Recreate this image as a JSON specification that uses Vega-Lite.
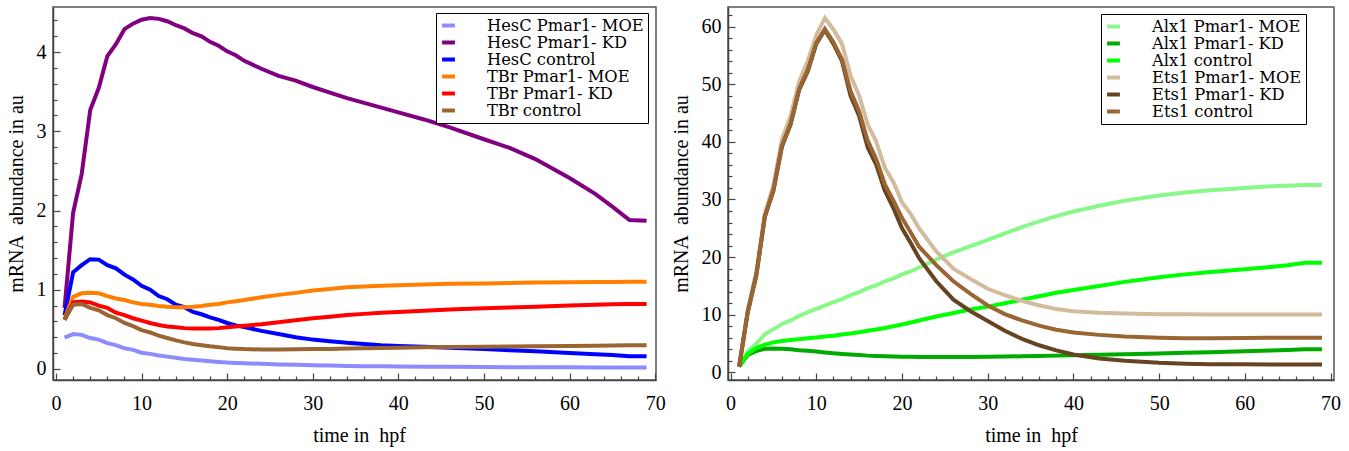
{
"$schema": "https://vega.github.io/schema/vega-lite/v6.json",
"autosize": {"type": "none"},
"padding": {"left": 53, "top": 7, "right": 1296, "bottom": 444},
"background": "white",
"bounds": "flush",
"spacing": 72,
"resolve": {"scale": {"color": "independent"}, "legend": {"color": "independent"}},
"config": {
  "font": "Liberation Serif",
  "view": {"stroke": "#555555", "strokeWidth": 1.5},
  "axis": {"grid": false, "labelFont": "Liberation Serif", "titleFont": "Liberation Serif", "labelColor": "black", "titleColor": "black", "titleFontWeight": "normal", "labelFontSize": 20, "titleFontSize": 20, "tickColor": "#444444", "domainColor": "#444444", "domainWidth": 1.5, "tickWidth": 1.2, "labelFlush": false, "labelOverlap": false},
  "legend": {"labelFont": "DejaVu Serif", "labelFontSize": 16.3, "labelColor": "black", "title": null, "symbolType": "stroke", "symbolStrokeWidth": 4, "symbolSize": 165, "labelOffset": 30, "rowPadding": 0, "padding": 4, "strokeColor": "black", "fillColor": "white", "labelLimit": 400}
},
"datasets": {
"left": [
{"t":1,"s":"HesC Pmar1- MOE","v":0.395},{"t":2,"s":"HesC Pmar1- MOE","v":0.44},{"t":3,"s":"HesC Pmar1- MOE","v":0.43},{"t":4,"s":"HesC Pmar1- MOE","v":0.39},{"t":5,"s":"HesC Pmar1- MOE","v":0.37},{"t":6,"s":"HesC Pmar1- MOE","v":0.325},{"t":7,"s":"HesC Pmar1- MOE","v":0.30},{"t":8,"s":"HesC Pmar1- MOE","v":0.26},{"t":9,"s":"HesC Pmar1- MOE","v":0.24},{"t":10,"s":"HesC Pmar1- MOE","v":0.205},{"t":11,"s":"HesC Pmar1- MOE","v":0.19},{"t":12,"s":"HesC Pmar1- MOE","v":0.17},{"t":13,"s":"HesC Pmar1- MOE","v":0.155},{"t":14,"s":"HesC Pmar1- MOE","v":0.14},{"t":15,"s":"HesC Pmar1- MOE","v":0.125},{"t":16,"s":"HesC Pmar1- MOE","v":0.115},{"t":17,"s":"HesC Pmar1- MOE","v":0.105},{"t":18,"s":"HesC Pmar1- MOE","v":0.097},{"t":19,"s":"HesC Pmar1- MOE","v":0.088},{"t":20,"s":"HesC Pmar1- MOE","v":0.08},{"t":21,"s":"HesC Pmar1- MOE","v":0.076},{"t":22,"s":"HesC Pmar1- MOE","v":0.072},{"t":24,"s":"HesC Pmar1- MOE","v":0.064},{"t":26,"s":"HesC Pmar1- MOE","v":0.057},{"t":28,"s":"HesC Pmar1- MOE","v":0.051},{"t":30,"s":"HesC Pmar1- MOE","v":0.046},{"t":32,"s":"HesC Pmar1- MOE","v":0.042},{"t":34,"s":"HesC Pmar1- MOE","v":0.038},{"t":36,"s":"HesC Pmar1- MOE","v":0.035},{"t":38,"s":"HesC Pmar1- MOE","v":0.033},{"t":40,"s":"HesC Pmar1- MOE","v":0.031},{"t":43,"s":"HesC Pmar1- MOE","v":0.028},{"t":46,"s":"HesC Pmar1- MOE","v":0.026},{"t":50,"s":"HesC Pmar1- MOE","v":0.024},{"t":53,"s":"HesC Pmar1- MOE","v":0.022},{"t":56,"s":"HesC Pmar1- MOE","v":0.021},{"t":60,"s":"HesC Pmar1- MOE","v":0.02},{"t":63,"s":"HesC Pmar1- MOE","v":0.019},{"t":65,"s":"HesC Pmar1- MOE","v":0.018},{"t":67,"s":"HesC Pmar1- MOE","v":0.018},{"t":69,"s":"HesC Pmar1- MOE","v":0.018},
{"t":1,"s":"HesC Pmar1- KD","v":0.77},{"t":2,"s":"HesC Pmar1- KD","v":1.97},{"t":3,"s":"HesC Pmar1- KD","v":2.46},{"t":4,"s":"HesC Pmar1- KD","v":3.27},{"t":5,"s":"HesC Pmar1- KD","v":3.55},{"t":6,"s":"HesC Pmar1- KD","v":3.95},{"t":7,"s":"HesC Pmar1- KD","v":4.10},{"t":8,"s":"HesC Pmar1- KD","v":4.29},{"t":9,"s":"HesC Pmar1- KD","v":4.36},{"t":10,"s":"HesC Pmar1- KD","v":4.41},{"t":11,"s":"HesC Pmar1- KD","v":4.43},{"t":12,"s":"HesC Pmar1- KD","v":4.42},{"t":13,"s":"HesC Pmar1- KD","v":4.39},{"t":14,"s":"HesC Pmar1- KD","v":4.34},{"t":15,"s":"HesC Pmar1- KD","v":4.30},{"t":16,"s":"HesC Pmar1- KD","v":4.24},{"t":17,"s":"HesC Pmar1- KD","v":4.20},{"t":18,"s":"HesC Pmar1- KD","v":4.13},{"t":19,"s":"HesC Pmar1- KD","v":4.08},{"t":20,"s":"HesC Pmar1- KD","v":4.01},{"t":21,"s":"HesC Pmar1- KD","v":3.96},{"t":22,"s":"HesC Pmar1- KD","v":3.89},{"t":24,"s":"HesC Pmar1- KD","v":3.79},{"t":26,"s":"HesC Pmar1- KD","v":3.70},{"t":28,"s":"HesC Pmar1- KD","v":3.64},{"t":30,"s":"HesC Pmar1- KD","v":3.56},{"t":32,"s":"HesC Pmar1- KD","v":3.49},{"t":34,"s":"HesC Pmar1- KD","v":3.42},{"t":36,"s":"HesC Pmar1- KD","v":3.36},{"t":38,"s":"HesC Pmar1- KD","v":3.30},{"t":40,"s":"HesC Pmar1- KD","v":3.24},{"t":43,"s":"HesC Pmar1- KD","v":3.15},{"t":46,"s":"HesC Pmar1- KD","v":3.05},{"t":50,"s":"HesC Pmar1- KD","v":2.90},{"t":53,"s":"HesC Pmar1- KD","v":2.79},{"t":56,"s":"HesC Pmar1- KD","v":2.65},{"t":60,"s":"HesC Pmar1- KD","v":2.41},{"t":63,"s":"HesC Pmar1- KD","v":2.21},{"t":65,"s":"HesC Pmar1- KD","v":2.05},{"t":67,"s":"HesC Pmar1- KD","v":1.88},{"t":69,"s":"HesC Pmar1- KD","v":1.87},
{"t":1,"s":"HesC control","v":0.68},{"t":2,"s":"HesC control","v":1.22},{"t":3,"s":"HesC control","v":1.31},{"t":4,"s":"HesC control","v":1.385},{"t":5,"s":"HesC control","v":1.38},{"t":6,"s":"HesC control","v":1.31},{"t":7,"s":"HesC control","v":1.27},{"t":8,"s":"HesC control","v":1.19},{"t":9,"s":"HesC control","v":1.13},{"t":10,"s":"HesC control","v":1.05},{"t":11,"s":"HesC control","v":1.00},{"t":12,"s":"HesC control","v":0.92},{"t":13,"s":"HesC control","v":0.88},{"t":14,"s":"HesC control","v":0.81},{"t":15,"s":"HesC control","v":0.78},{"t":16,"s":"HesC control","v":0.72},{"t":17,"s":"HesC control","v":0.69},{"t":18,"s":"HesC control","v":0.65},{"t":19,"s":"HesC control","v":0.62},{"t":20,"s":"HesC control","v":0.58},{"t":21,"s":"HesC control","v":0.55},{"t":22,"s":"HesC control","v":0.53},{"t":24,"s":"HesC control","v":0.48},{"t":26,"s":"HesC control","v":0.44},{"t":28,"s":"HesC control","v":0.40},{"t":30,"s":"HesC control","v":0.37},{"t":32,"s":"HesC control","v":0.35},{"t":34,"s":"HesC control","v":0.33},{"t":36,"s":"HesC control","v":0.315},{"t":38,"s":"HesC control","v":0.30},{"t":40,"s":"HesC control","v":0.29},{"t":43,"s":"HesC control","v":0.28},{"t":46,"s":"HesC control","v":0.268},{"t":50,"s":"HesC control","v":0.25},{"t":53,"s":"HesC control","v":0.237},{"t":56,"s":"HesC control","v":0.222},{"t":60,"s":"HesC control","v":0.20},{"t":63,"s":"HesC control","v":0.185},{"t":65,"s":"HesC control","v":0.175},{"t":67,"s":"HesC control","v":0.16},{"t":69,"s":"HesC control","v":0.16},
{"t":1,"s":"TBr Pmar1- MOE","v":0.63},{"t":2,"s":"TBr Pmar1- MOE","v":0.91},{"t":3,"s":"TBr Pmar1- MOE","v":0.955},{"t":4,"s":"TBr Pmar1- MOE","v":0.963},{"t":5,"s":"TBr Pmar1- MOE","v":0.955},{"t":6,"s":"TBr Pmar1- MOE","v":0.92},{"t":7,"s":"TBr Pmar1- MOE","v":0.89},{"t":8,"s":"TBr Pmar1- MOE","v":0.87},{"t":9,"s":"TBr Pmar1- MOE","v":0.84},{"t":10,"s":"TBr Pmar1- MOE","v":0.82},{"t":11,"s":"TBr Pmar1- MOE","v":0.81},{"t":12,"s":"TBr Pmar1- MOE","v":0.795},{"t":13,"s":"TBr Pmar1- MOE","v":0.786},{"t":14,"s":"TBr Pmar1- MOE","v":0.78},{"t":15,"s":"TBr Pmar1- MOE","v":0.78},{"t":16,"s":"TBr Pmar1- MOE","v":0.786},{"t":17,"s":"TBr Pmar1- MOE","v":0.795},{"t":18,"s":"TBr Pmar1- MOE","v":0.81},{"t":19,"s":"TBr Pmar1- MOE","v":0.82},{"t":20,"s":"TBr Pmar1- MOE","v":0.84},{"t":21,"s":"TBr Pmar1- MOE","v":0.855},{"t":22,"s":"TBr Pmar1- MOE","v":0.87},{"t":24,"s":"TBr Pmar1- MOE","v":0.905},{"t":26,"s":"TBr Pmar1- MOE","v":0.935},{"t":28,"s":"TBr Pmar1- MOE","v":0.96},{"t":30,"s":"TBr Pmar1- MOE","v":0.99},{"t":32,"s":"TBr Pmar1- MOE","v":1.01},{"t":34,"s":"TBr Pmar1- MOE","v":1.03},{"t":36,"s":"TBr Pmar1- MOE","v":1.04},{"t":38,"s":"TBr Pmar1- MOE","v":1.05},{"t":40,"s":"TBr Pmar1- MOE","v":1.057},{"t":43,"s":"TBr Pmar1- MOE","v":1.065},{"t":46,"s":"TBr Pmar1- MOE","v":1.075},{"t":50,"s":"TBr Pmar1- MOE","v":1.08},{"t":53,"s":"TBr Pmar1- MOE","v":1.085},{"t":56,"s":"TBr Pmar1- MOE","v":1.09},{"t":60,"s":"TBr Pmar1- MOE","v":1.093},{"t":63,"s":"TBr Pmar1- MOE","v":1.096},{"t":65,"s":"TBr Pmar1- MOE","v":1.098},{"t":67,"s":"TBr Pmar1- MOE","v":1.10},{"t":69,"s":"TBr Pmar1- MOE","v":1.10},
{"t":1,"s":"TBr Pmar1- KD","v":0.62},{"t":2,"s":"TBr Pmar1- KD","v":0.84},{"t":3,"s":"TBr Pmar1- KD","v":0.85},{"t":4,"s":"TBr Pmar1- KD","v":0.84},{"t":5,"s":"TBr Pmar1- KD","v":0.80},{"t":6,"s":"TBr Pmar1- KD","v":0.77},{"t":7,"s":"TBr Pmar1- KD","v":0.71},{"t":8,"s":"TBr Pmar1- KD","v":0.68},{"t":9,"s":"TBr Pmar1- KD","v":0.64},{"t":10,"s":"TBr Pmar1- KD","v":0.61},{"t":11,"s":"TBr Pmar1- KD","v":0.58},{"t":12,"s":"TBr Pmar1- KD","v":0.555},{"t":13,"s":"TBr Pmar1- KD","v":0.535},{"t":14,"s":"TBr Pmar1- KD","v":0.525},{"t":15,"s":"TBr Pmar1- KD","v":0.515},{"t":16,"s":"TBr Pmar1- KD","v":0.51},{"t":17,"s":"TBr Pmar1- KD","v":0.51},{"t":18,"s":"TBr Pmar1- KD","v":0.51},{"t":19,"s":"TBr Pmar1- KD","v":0.515},{"t":20,"s":"TBr Pmar1- KD","v":0.525},{"t":21,"s":"TBr Pmar1- KD","v":0.535},{"t":22,"s":"TBr Pmar1- KD","v":0.545},{"t":24,"s":"TBr Pmar1- KD","v":0.565},{"t":26,"s":"TBr Pmar1- KD","v":0.59},{"t":28,"s":"TBr Pmar1- KD","v":0.615},{"t":30,"s":"TBr Pmar1- KD","v":0.64},{"t":32,"s":"TBr Pmar1- KD","v":0.66},{"t":34,"s":"TBr Pmar1- KD","v":0.68},{"t":36,"s":"TBr Pmar1- KD","v":0.695},{"t":38,"s":"TBr Pmar1- KD","v":0.71},{"t":40,"s":"TBr Pmar1- KD","v":0.72},{"t":43,"s":"TBr Pmar1- KD","v":0.735},{"t":46,"s":"TBr Pmar1- KD","v":0.75},{"t":50,"s":"TBr Pmar1- KD","v":0.765},{"t":53,"s":"TBr Pmar1- KD","v":0.775},{"t":56,"s":"TBr Pmar1- KD","v":0.785},{"t":60,"s":"TBr Pmar1- KD","v":0.80},{"t":63,"s":"TBr Pmar1- KD","v":0.81},{"t":65,"s":"TBr Pmar1- KD","v":0.815},{"t":67,"s":"TBr Pmar1- KD","v":0.82},{"t":69,"s":"TBr Pmar1- KD","v":0.82},
{"t":1,"s":"TBr control","v":0.62},{"t":2,"s":"TBr control","v":0.81},{"t":3,"s":"TBr control","v":0.82},{"t":4,"s":"TBr control","v":0.77},{"t":5,"s":"TBr control","v":0.74},{"t":6,"s":"TBr control","v":0.68},{"t":7,"s":"TBr control","v":0.64},{"t":8,"s":"TBr control","v":0.58},{"t":9,"s":"TBr control","v":0.54},{"t":10,"s":"TBr control","v":0.49},{"t":11,"s":"TBr control","v":0.46},{"t":12,"s":"TBr control","v":0.42},{"t":13,"s":"TBr control","v":0.39},{"t":14,"s":"TBr control","v":0.36},{"t":15,"s":"TBr control","v":0.335},{"t":16,"s":"TBr control","v":0.315},{"t":17,"s":"TBr control","v":0.30},{"t":18,"s":"TBr control","v":0.285},{"t":19,"s":"TBr control","v":0.275},{"t":20,"s":"TBr control","v":0.262},{"t":21,"s":"TBr control","v":0.255},{"t":22,"s":"TBr control","v":0.25},{"t":24,"s":"TBr control","v":0.245},{"t":26,"s":"TBr control","v":0.245},{"t":28,"s":"TBr control","v":0.247},{"t":30,"s":"TBr control","v":0.25},{"t":32,"s":"TBr control","v":0.253},{"t":34,"s":"TBr control","v":0.257},{"t":36,"s":"TBr control","v":0.261},{"t":38,"s":"TBr control","v":0.265},{"t":40,"s":"TBr control","v":0.268},{"t":43,"s":"TBr control","v":0.272},{"t":46,"s":"TBr control","v":0.276},{"t":50,"s":"TBr control","v":0.28},{"t":53,"s":"TBr control","v":0.283},{"t":56,"s":"TBr control","v":0.286},{"t":60,"s":"TBr control","v":0.29},{"t":63,"s":"TBr control","v":0.293},{"t":65,"s":"TBr control","v":0.295},{"t":67,"s":"TBr control","v":0.298},{"t":69,"s":"TBr control","v":0.30}
],
"right": [
{"t":1,"s":"Alx1 Pmar1- MOE","v":1.0},{"t":2,"s":"Alx1 Pmar1- MOE","v":3.6},{"t":3,"s":"Alx1 Pmar1- MOE","v":5.0},{"t":4,"s":"Alx1 Pmar1- MOE","v":6.6},{"t":5,"s":"Alx1 Pmar1- MOE","v":7.5},{"t":6,"s":"Alx1 Pmar1- MOE","v":8.4},{"t":7,"s":"Alx1 Pmar1- MOE","v":9.0},{"t":8,"s":"Alx1 Pmar1- MOE","v":9.8},{"t":9,"s":"Alx1 Pmar1- MOE","v":10.4},{"t":10,"s":"Alx1 Pmar1- MOE","v":11.0},{"t":11,"s":"Alx1 Pmar1- MOE","v":11.6},{"t":12,"s":"Alx1 Pmar1- MOE","v":12.2},{"t":13,"s":"Alx1 Pmar1- MOE","v":12.7},{"t":14,"s":"Alx1 Pmar1- MOE","v":13.4},{"t":15,"s":"Alx1 Pmar1- MOE","v":13.9},{"t":16,"s":"Alx1 Pmar1- MOE","v":14.6},{"t":17,"s":"Alx1 Pmar1- MOE","v":15.1},{"t":18,"s":"Alx1 Pmar1- MOE","v":15.8},{"t":19,"s":"Alx1 Pmar1- MOE","v":16.3},{"t":20,"s":"Alx1 Pmar1- MOE","v":17.0},{"t":21,"s":"Alx1 Pmar1- MOE","v":17.5},{"t":22,"s":"Alx1 Pmar1- MOE","v":18.2},{"t":24,"s":"Alx1 Pmar1- MOE","v":19.6},{"t":26,"s":"Alx1 Pmar1- MOE","v":20.8},{"t":28,"s":"Alx1 Pmar1- MOE","v":21.9},{"t":30,"s":"Alx1 Pmar1- MOE","v":23.0},{"t":32,"s":"Alx1 Pmar1- MOE","v":24.1},{"t":34,"s":"Alx1 Pmar1- MOE","v":25.2},{"t":36,"s":"Alx1 Pmar1- MOE","v":26.2},{"t":38,"s":"Alx1 Pmar1- MOE","v":27.1},{"t":40,"s":"Alx1 Pmar1- MOE","v":27.9},{"t":43,"s":"Alx1 Pmar1- MOE","v":28.9},{"t":46,"s":"Alx1 Pmar1- MOE","v":29.8},{"t":50,"s":"Alx1 Pmar1- MOE","v":30.7},{"t":53,"s":"Alx1 Pmar1- MOE","v":31.2},{"t":56,"s":"Alx1 Pmar1- MOE","v":31.6},{"t":60,"s":"Alx1 Pmar1- MOE","v":32.0},{"t":63,"s":"Alx1 Pmar1- MOE","v":32.3},{"t":65,"s":"Alx1 Pmar1- MOE","v":32.4},{"t":67,"s":"Alx1 Pmar1- MOE","v":32.5},{"t":69,"s":"Alx1 Pmar1- MOE","v":32.5},
{"t":1,"s":"Alx1 Pmar1- KD","v":1.0},{"t":2,"s":"Alx1 Pmar1- KD","v":3.0},{"t":3,"s":"Alx1 Pmar1- KD","v":3.7},{"t":4,"s":"Alx1 Pmar1- KD","v":4.1},{"t":5,"s":"Alx1 Pmar1- KD","v":4.15},{"t":6,"s":"Alx1 Pmar1- KD","v":4.1},{"t":7,"s":"Alx1 Pmar1- KD","v":4.0},{"t":8,"s":"Alx1 Pmar1- KD","v":3.85},{"t":9,"s":"Alx1 Pmar1- KD","v":3.75},{"t":10,"s":"Alx1 Pmar1- KD","v":3.6},{"t":11,"s":"Alx1 Pmar1- KD","v":3.45},{"t":12,"s":"Alx1 Pmar1- KD","v":3.3},{"t":13,"s":"Alx1 Pmar1- KD","v":3.2},{"t":14,"s":"Alx1 Pmar1- KD","v":3.1},{"t":15,"s":"Alx1 Pmar1- KD","v":3.0},{"t":16,"s":"Alx1 Pmar1- KD","v":2.9},{"t":17,"s":"Alx1 Pmar1- KD","v":2.85},{"t":18,"s":"Alx1 Pmar1- KD","v":2.8},{"t":19,"s":"Alx1 Pmar1- KD","v":2.75},{"t":20,"s":"Alx1 Pmar1- KD","v":2.72},{"t":21,"s":"Alx1 Pmar1- KD","v":2.7},{"t":22,"s":"Alx1 Pmar1- KD","v":2.68},{"t":24,"s":"Alx1 Pmar1- KD","v":2.66},{"t":26,"s":"Alx1 Pmar1- KD","v":2.66},{"t":28,"s":"Alx1 Pmar1- KD","v":2.68},{"t":30,"s":"Alx1 Pmar1- KD","v":2.7},{"t":32,"s":"Alx1 Pmar1- KD","v":2.74},{"t":34,"s":"Alx1 Pmar1- KD","v":2.78},{"t":36,"s":"Alx1 Pmar1- KD","v":2.83},{"t":38,"s":"Alx1 Pmar1- KD","v":2.9},{"t":40,"s":"Alx1 Pmar1- KD","v":2.97},{"t":43,"s":"Alx1 Pmar1- KD","v":3.06},{"t":46,"s":"Alx1 Pmar1- KD","v":3.15},{"t":50,"s":"Alx1 Pmar1- KD","v":3.28},{"t":53,"s":"Alx1 Pmar1- KD","v":3.38},{"t":56,"s":"Alx1 Pmar1- KD","v":3.5},{"t":60,"s":"Alx1 Pmar1- KD","v":3.65},{"t":63,"s":"Alx1 Pmar1- KD","v":3.78},{"t":65,"s":"Alx1 Pmar1- KD","v":3.88},{"t":67,"s":"Alx1 Pmar1- KD","v":4.0},{"t":69,"s":"Alx1 Pmar1- KD","v":4.0},
{"t":1,"s":"Alx1 control","v":1.0},{"t":2,"s":"Alx1 control","v":3.2},{"t":3,"s":"Alx1 control","v":4.2},{"t":4,"s":"Alx1 control","v":4.8},{"t":5,"s":"Alx1 control","v":5.2},{"t":6,"s":"Alx1 control","v":5.45},{"t":7,"s":"Alx1 control","v":5.6},{"t":8,"s":"Alx1 control","v":5.75},{"t":9,"s":"Alx1 control","v":5.9},{"t":10,"s":"Alx1 control","v":6.05},{"t":11,"s":"Alx1 control","v":6.2},{"t":12,"s":"Alx1 control","v":6.35},{"t":13,"s":"Alx1 control","v":6.55},{"t":14,"s":"Alx1 control","v":6.75},{"t":15,"s":"Alx1 control","v":6.95},{"t":16,"s":"Alx1 control","v":7.2},{"t":17,"s":"Alx1 control","v":7.45},{"t":18,"s":"Alx1 control","v":7.7},{"t":19,"s":"Alx1 control","v":8.0},{"t":20,"s":"Alx1 control","v":8.3},{"t":21,"s":"Alx1 control","v":8.65},{"t":22,"s":"Alx1 control","v":9.0},{"t":24,"s":"Alx1 control","v":9.7},{"t":26,"s":"Alx1 control","v":10.3},{"t":28,"s":"Alx1 control","v":10.9},{"t":30,"s":"Alx1 control","v":11.4},{"t":32,"s":"Alx1 control","v":12.0},{"t":34,"s":"Alx1 control","v":12.6},{"t":36,"s":"Alx1 control","v":13.2},{"t":38,"s":"Alx1 control","v":13.8},{"t":40,"s":"Alx1 control","v":14.3},{"t":43,"s":"Alx1 control","v":15.0},{"t":46,"s":"Alx1 control","v":15.7},{"t":50,"s":"Alx1 control","v":16.5},{"t":53,"s":"Alx1 control","v":17.0},{"t":56,"s":"Alx1 control","v":17.4},{"t":60,"s":"Alx1 control","v":17.9},{"t":63,"s":"Alx1 control","v":18.3},{"t":65,"s":"Alx1 control","v":18.6},{"t":67,"s":"Alx1 control","v":19.0},{"t":69,"s":"Alx1 control","v":19.0},
{"t":1,"s":"Ets1 Pmar1- MOE","v":1.0},{"t":2,"s":"Ets1 Pmar1- MOE","v":10.8},{"t":3,"s":"Ets1 Pmar1- MOE","v":17.5},{"t":4,"s":"Ets1 Pmar1- MOE","v":27.5},{"t":5,"s":"Ets1 Pmar1- MOE","v":32.5},{"t":6,"s":"Ets1 Pmar1- MOE","v":40.5},{"t":7,"s":"Ets1 Pmar1- MOE","v":44.5},{"t":8,"s":"Ets1 Pmar1- MOE","v":50.5},{"t":9,"s":"Ets1 Pmar1- MOE","v":54.0},{"t":10,"s":"Ets1 Pmar1- MOE","v":58.5},{"t":11,"s":"Ets1 Pmar1- MOE","v":61.5},{"t":12,"s":"Ets1 Pmar1- MOE","v":59.5},{"t":13,"s":"Ets1 Pmar1- MOE","v":57.0},{"t":14,"s":"Ets1 Pmar1- MOE","v":51.5},{"t":15,"s":"Ets1 Pmar1- MOE","v":48.0},{"t":16,"s":"Ets1 Pmar1- MOE","v":43.0},{"t":17,"s":"Ets1 Pmar1- MOE","v":40.0},{"t":18,"s":"Ets1 Pmar1- MOE","v":35.5},{"t":19,"s":"Ets1 Pmar1- MOE","v":33.0},{"t":20,"s":"Ets1 Pmar1- MOE","v":29.5},{"t":21,"s":"Ets1 Pmar1- MOE","v":27.5},{"t":22,"s":"Ets1 Pmar1- MOE","v":25.0},{"t":24,"s":"Ets1 Pmar1- MOE","v":21.0},{"t":26,"s":"Ets1 Pmar1- MOE","v":18.0},{"t":28,"s":"Ets1 Pmar1- MOE","v":16.2},{"t":30,"s":"Ets1 Pmar1- MOE","v":14.5},{"t":32,"s":"Ets1 Pmar1- MOE","v":13.4},{"t":34,"s":"Ets1 Pmar1- MOE","v":12.4},{"t":36,"s":"Ets1 Pmar1- MOE","v":11.6},{"t":38,"s":"Ets1 Pmar1- MOE","v":11.0},{"t":40,"s":"Ets1 Pmar1- MOE","v":10.6},{"t":43,"s":"Ets1 Pmar1- MOE","v":10.35},{"t":46,"s":"Ets1 Pmar1- MOE","v":10.2},{"t":50,"s":"Ets1 Pmar1- MOE","v":10.1},{"t":53,"s":"Ets1 Pmar1- MOE","v":10.1},{"t":56,"s":"Ets1 Pmar1- MOE","v":10.05},{"t":60,"s":"Ets1 Pmar1- MOE","v":10.05},{"t":63,"s":"Ets1 Pmar1- MOE","v":10.05},{"t":65,"s":"Ets1 Pmar1- MOE","v":10.05},{"t":67,"s":"Ets1 Pmar1- MOE","v":10.05},{"t":69,"s":"Ets1 Pmar1- MOE","v":10.05},
{"t":1,"s":"Ets1 Pmar1- KD","v":1.0},{"t":2,"s":"Ets1 Pmar1- KD","v":10.4},{"t":3,"s":"Ets1 Pmar1- KD","v":16.8},{"t":4,"s":"Ets1 Pmar1- KD","v":27.0},{"t":5,"s":"Ets1 Pmar1- KD","v":31.5},{"t":6,"s":"Ets1 Pmar1- KD","v":39.2},{"t":7,"s":"Ets1 Pmar1- KD","v":43.0},{"t":8,"s":"Ets1 Pmar1- KD","v":49.0},{"t":9,"s":"Ets1 Pmar1- KD","v":52.2},{"t":10,"s":"Ets1 Pmar1- KD","v":57.0},{"t":11,"s":"Ets1 Pmar1- KD","v":59.4},{"t":12,"s":"Ets1 Pmar1- KD","v":57.0},{"t":13,"s":"Ets1 Pmar1- KD","v":54.0},{"t":14,"s":"Ets1 Pmar1- KD","v":48.0},{"t":15,"s":"Ets1 Pmar1- KD","v":44.5},{"t":16,"s":"Ets1 Pmar1- KD","v":39.0},{"t":17,"s":"Ets1 Pmar1- KD","v":36.0},{"t":18,"s":"Ets1 Pmar1- KD","v":31.5},{"t":19,"s":"Ets1 Pmar1- KD","v":28.5},{"t":20,"s":"Ets1 Pmar1- KD","v":25.0},{"t":21,"s":"Ets1 Pmar1- KD","v":22.5},{"t":22,"s":"Ets1 Pmar1- KD","v":19.8},{"t":24,"s":"Ets1 Pmar1- KD","v":15.8},{"t":26,"s":"Ets1 Pmar1- KD","v":12.6},{"t":28,"s":"Ets1 Pmar1- KD","v":10.6},{"t":30,"s":"Ets1 Pmar1- KD","v":8.9},{"t":32,"s":"Ets1 Pmar1- KD","v":7.2},{"t":34,"s":"Ets1 Pmar1- KD","v":5.8},{"t":36,"s":"Ets1 Pmar1- KD","v":4.7},{"t":38,"s":"Ets1 Pmar1- KD","v":3.8},{"t":40,"s":"Ets1 Pmar1- KD","v":3.1},{"t":43,"s":"Ets1 Pmar1- KD","v":2.4},{"t":46,"s":"Ets1 Pmar1- KD","v":2.0},{"t":50,"s":"Ets1 Pmar1- KD","v":1.65},{"t":53,"s":"Ets1 Pmar1- KD","v":1.5},{"t":56,"s":"Ets1 Pmar1- KD","v":1.42},{"t":60,"s":"Ets1 Pmar1- KD","v":1.4},{"t":63,"s":"Ets1 Pmar1- KD","v":1.38},{"t":65,"s":"Ets1 Pmar1- KD","v":1.38},{"t":67,"s":"Ets1 Pmar1- KD","v":1.38},{"t":69,"s":"Ets1 Pmar1- KD","v":1.38},
{"t":1,"s":"Ets1 control","v":1.0},{"t":2,"s":"Ets1 control","v":10.4},{"t":3,"s":"Ets1 control","v":16.8},{"t":4,"s":"Ets1 control","v":27.1},{"t":5,"s":"Ets1 control","v":31.7},{"t":6,"s":"Ets1 control","v":39.4},{"t":7,"s":"Ets1 control","v":43.2},{"t":8,"s":"Ets1 control","v":49.2},{"t":9,"s":"Ets1 control","v":52.5},{"t":10,"s":"Ets1 control","v":57.2},{"t":11,"s":"Ets1 control","v":59.6},{"t":12,"s":"Ets1 control","v":57.3},{"t":13,"s":"Ets1 control","v":54.3},{"t":14,"s":"Ets1 control","v":48.8},{"t":15,"s":"Ets1 control","v":45.3},{"t":16,"s":"Ets1 control","v":40.2},{"t":17,"s":"Ets1 control","v":37.0},{"t":18,"s":"Ets1 control","v":32.6},{"t":19,"s":"Ets1 control","v":29.8},{"t":20,"s":"Ets1 control","v":26.8},{"t":21,"s":"Ets1 control","v":24.3},{"t":22,"s":"Ets1 control","v":21.8},{"t":24,"s":"Ets1 control","v":18.6},{"t":26,"s":"Ets1 control","v":15.8},{"t":28,"s":"Ets1 control","v":13.6},{"t":30,"s":"Ets1 control","v":11.6},{"t":32,"s":"Ets1 control","v":10.1},{"t":34,"s":"Ets1 control","v":9.0},{"t":36,"s":"Ets1 control","v":8.1},{"t":38,"s":"Ets1 control","v":7.4},{"t":40,"s":"Ets1 control","v":6.9},{"t":43,"s":"Ets1 control","v":6.5},{"t":46,"s":"Ets1 control","v":6.2},{"t":50,"s":"Ets1 control","v":6.0},{"t":53,"s":"Ets1 control","v":5.9},{"t":56,"s":"Ets1 control","v":5.9},{"t":60,"s":"Ets1 control","v":5.95},{"t":63,"s":"Ets1 control","v":6.0},{"t":65,"s":"Ets1 control","v":6.0},{"t":67,"s":"Ets1 control","v":6.0},{"t":69,"s":"Ets1 control","v":6.0}
]
},
"hconcat": [
{
  "width": 603, "height": 373,
  "data": {"name": "left"},
  "resolve": {"axis": {"x": "independent", "y": "independent"}},
  "layer": [
    {
      "mark": {"type": "line", "strokeWidth": 4},
      "encoding": {
        "x": {"field": "t", "type": "quantitative", "scale": {"domain": [-0.35, 70.1], "nice": false, "zero": false},
          "axis": {"orient": "bottom", "values": [0,10,20,30,40,50,60,70], "tickSize": -7, "labelPadding": 36, "labelBaseline": "alphabetic", "title": "time in\u00a0 hpf", "titleX": 306, "titleY": 61, "titleBaseline": "alphabetic"}},
        "y": {"field": "v", "type": "quantitative", "scale": {"domain": [-0.14, 4.57], "nice": false, "zero": false},
          "axis": {"orient": "left", "values": [0,1,2,3,4], "tickSize": -7, "labelPadding": 14, "title": "mRNA\u00a0 abundance in au", "titleX": -31, "titleBaseline": "alphabetic"}},
        "color": {"field": "s", "type": "nominal",
          "scale": {"domain": ["HesC Pmar1- MOE","HesC Pmar1- KD","HesC control","TBr Pmar1- MOE","TBr Pmar1- KD","TBr control"], "range": ["#8c8cff","#800080","#0000ff","#ff8000","#ff0000","#996633"]},
          "legend": {"orient": "none", "legendX": 383, "legendY": 6}}
      }
    },
    {
      "mark": {"type": "line", "opacity": 0},
      "encoding": {
        "x": {"field": "t", "type": "quantitative", "scale": {"domain": [-0.35, 70.1], "nice": false, "zero": false},
          "axis": {"orient": "bottom", "values": [2,4,6,8,12,14,16,18,22,24,26,28,32,34,36,38,42,44,46,48,52,54,56,58,62,64,66,68], "tickSize": -4, "labels": false, "domain": false, "title": null}},
        "y": {"field": "v", "type": "quantitative", "scale": {"domain": [-0.14, 4.57], "nice": false, "zero": false},
          "axis": {"orient": "left", "values": [0.2,0.4,0.6,0.8,1.2,1.4,1.6,1.8,2.2,2.4,2.6,2.8,3.2,3.4,3.6,3.8,4.2,4.4], "tickSize": -4, "labels": false, "domain": false, "title": null}},
        "detail": {"field": "s"}
      }
    }
  ]
},
{
  "width": 606, "height": 373,
  "data": {"name": "right"},
  "resolve": {"axis": {"x": "independent", "y": "independent"}},
  "layer": [
    {
      "mark": {"type": "line", "strokeWidth": 4},
      "encoding": {
        "x": {"field": "t", "type": "quantitative", "scale": {"domain": [-0.3, 70.4], "nice": false, "zero": false},
          "axis": {"orient": "bottom", "values": [0,10,20,30,40,50,60,70], "tickSize": -7, "labelPadding": 36, "labelBaseline": "alphabetic", "title": "time in\u00a0 hpf", "titleY": 61, "titleBaseline": "alphabetic"}},
        "y": {"field": "v", "type": "quantitative", "scale": {"domain": [-1.33, 63.4], "nice": false, "zero": false},
          "axis": {"orient": "left", "values": [0,10,20,30,40,50,60], "tickSize": -7, "labelPadding": 14, "title": "mRNA\u00a0 abundance in au", "titleX": -41, "titleBaseline": "alphabetic"}},
        "color": {"field": "s", "type": "nominal",
          "scale": {"domain": ["Alx1 Pmar1- MOE","Alx1 Pmar1- KD","Alx1 control","Ets1 Pmar1- MOE","Ets1 Pmar1- KD","Ets1 control"], "range": ["#88f888","#00aa00","#00ff00","#d3bb9e","#664422","#996633"]},
          "legend": {"orient": "none", "legendX": 373, "legendY": 7}}
      }
    },
    {
      "mark": {"type": "line", "opacity": 0},
      "encoding": {
        "x": {"field": "t", "type": "quantitative", "scale": {"domain": [-0.3, 70.4], "nice": false, "zero": false},
          "axis": {"orient": "bottom", "values": [2,4,6,8,12,14,16,18,22,24,26,28,32,34,36,38,42,44,46,48,52,54,56,58,62,64,66,68], "tickSize": -4, "labels": false, "domain": false, "title": null}},
        "y": {"field": "v", "type": "quantitative", "scale": {"domain": [-1.33, 63.4], "nice": false, "zero": false},
          "axis": {"orient": "left", "values": [2,4,6,8,12,14,16,18,22,24,26,28,32,34,36,38,42,44,46,48,52,54,56,58,62], "tickSize": -4, "labels": false, "domain": false, "title": null}},
        "detail": {"field": "s"}
      }
    }
  ]
}
]
}
